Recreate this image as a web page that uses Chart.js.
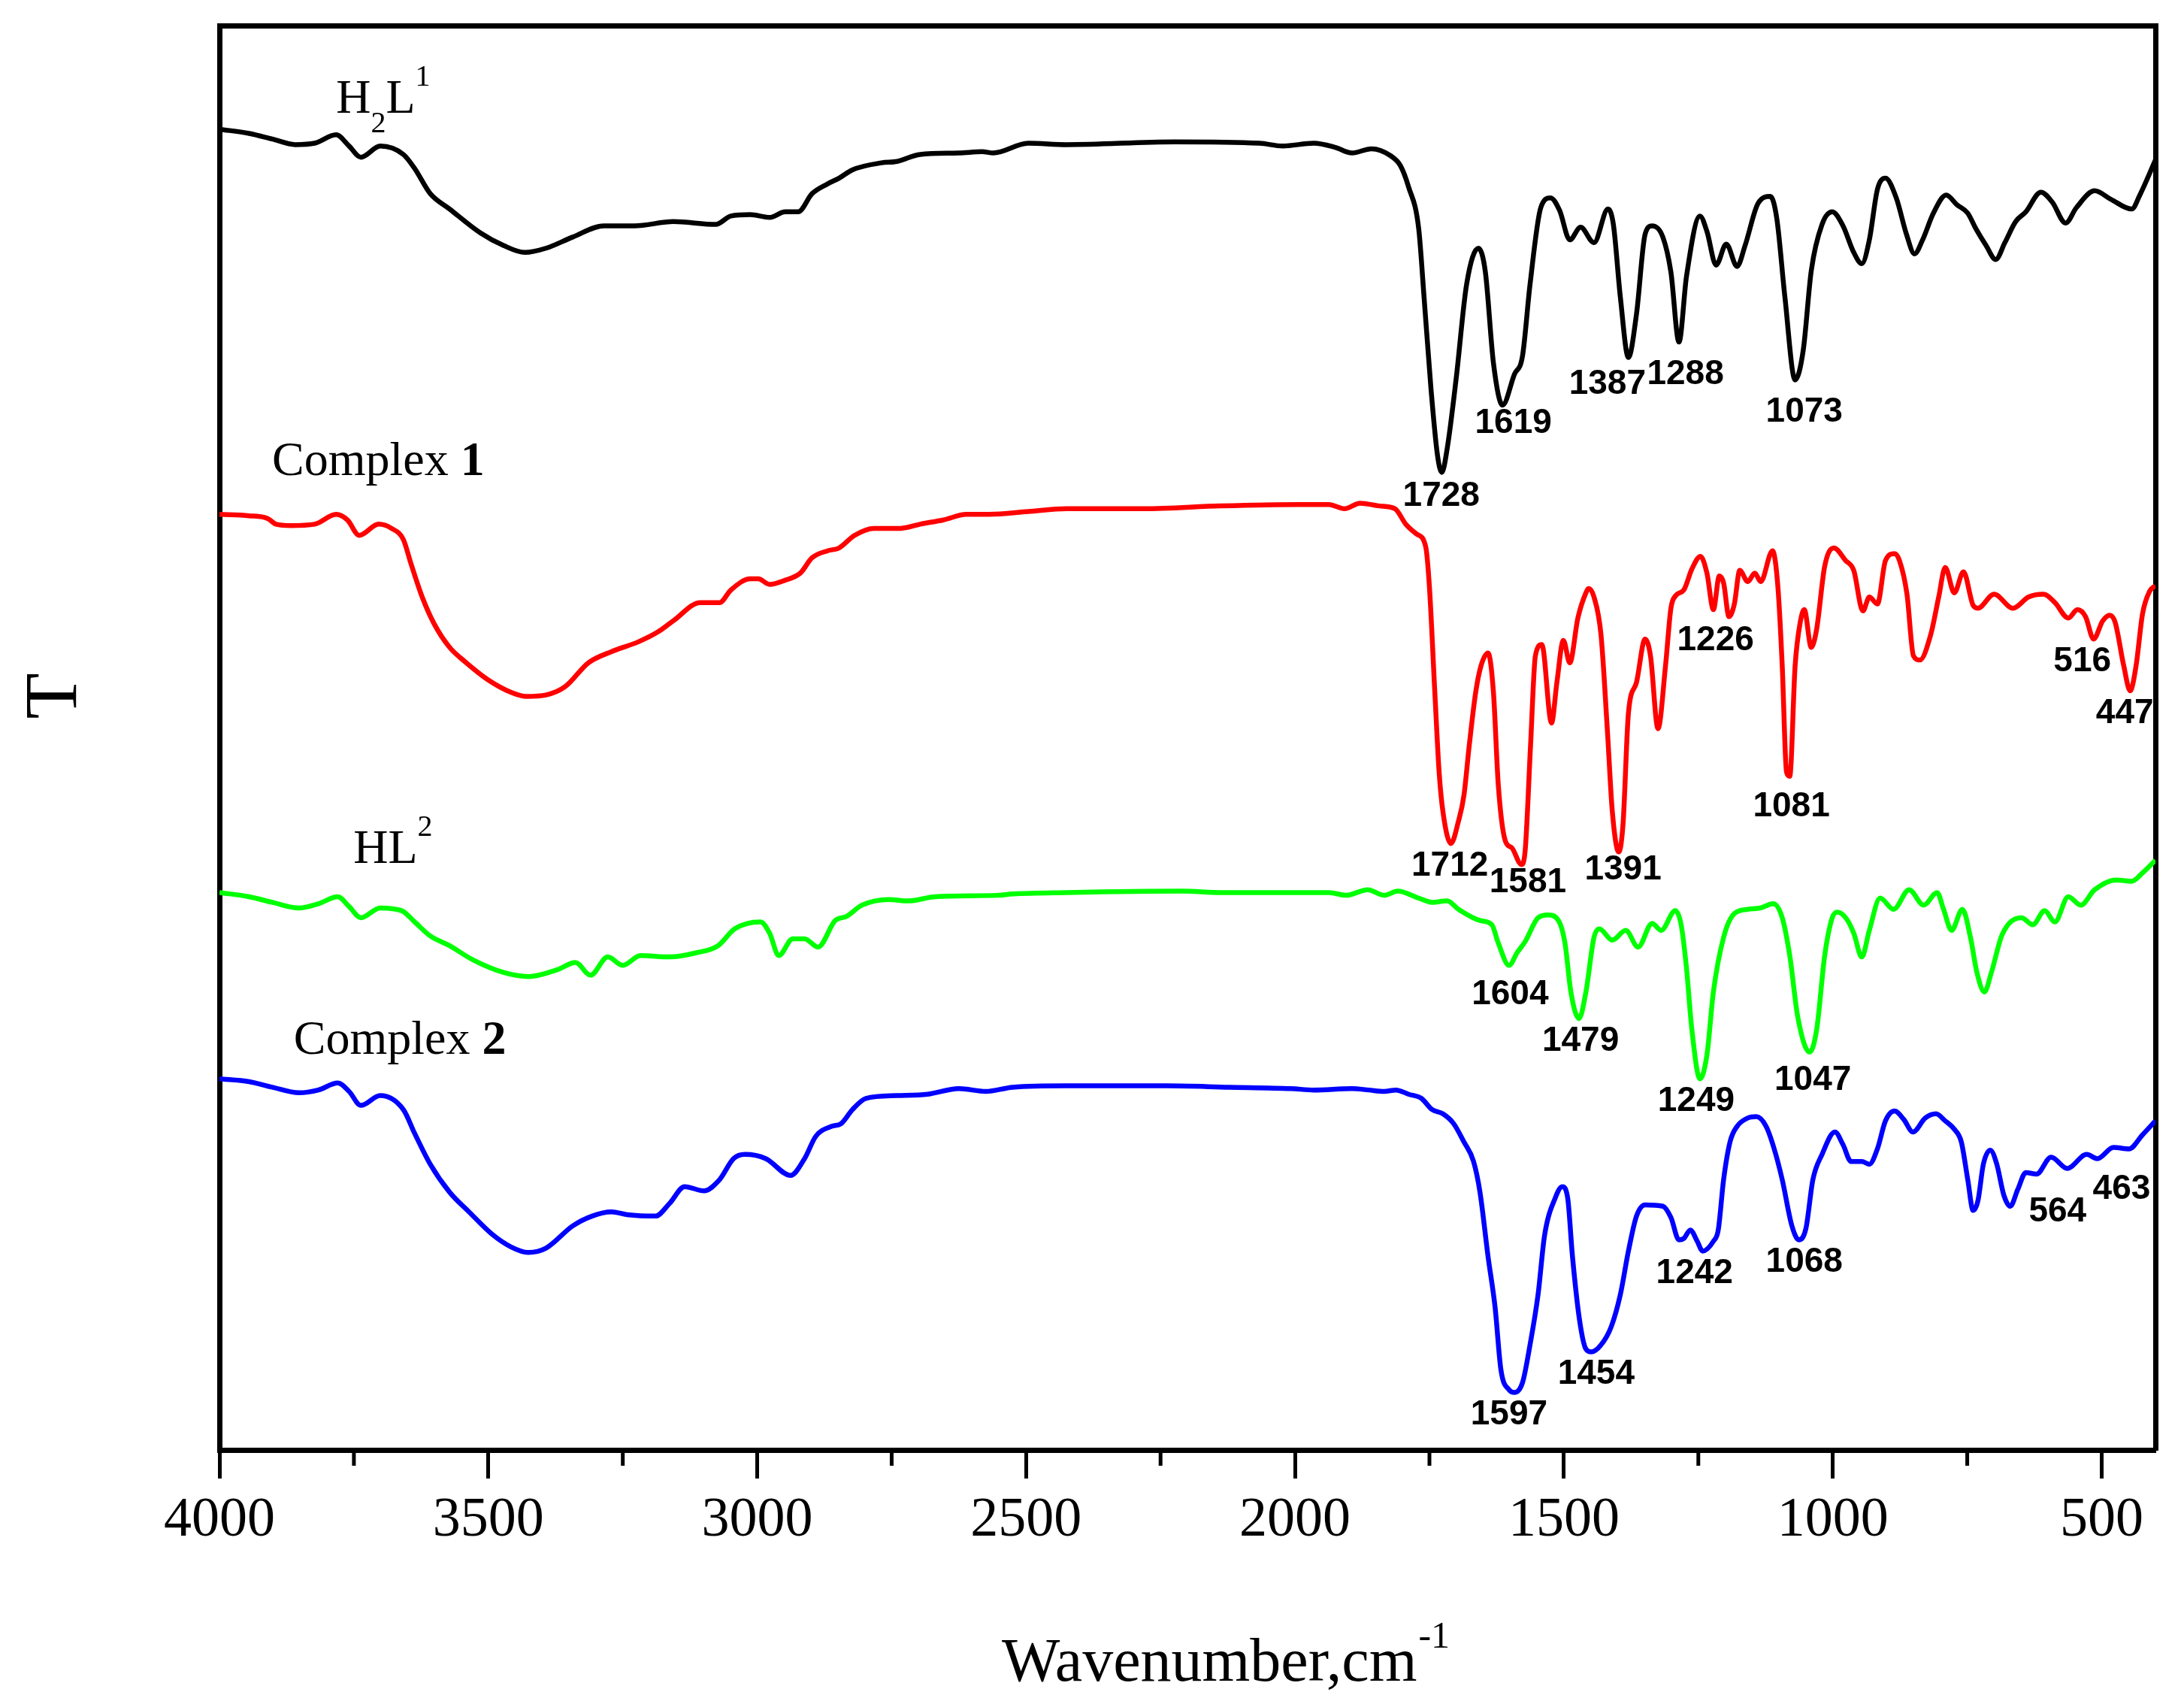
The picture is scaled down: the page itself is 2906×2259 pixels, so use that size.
<!DOCTYPE html>
<html>
<head>
<meta charset="utf-8">
<title>FT-IR spectra</title>
<script src="https://cdn.jsdelivr.net/npm/chart.js@4.4.1/dist/chart.umd.min.js"></script>
<style>
  html, body { margin: 0; padding: 0; background: #fff; }
  canvas { display: block; }
</style>
</head>
<body>
<canvas id="irChart" width="2906" height="2259"></canvas>
<script>
// x: wavenumber (cm-1), y: transmittance in arbitrary units (traces are offset)
var h2l1Wn = [
  4000, 3945, 3902, 3859, 3823, 3783, 3759, 3737, 3701, 3658,
  3637, 3608, 3572, 3515, 3472, 3432, 3393, 3343, 3285, 3228,
  3156, 3077, 3049, 3013, 2977, 2948, 2924, 2898, 2869, 2848,
  2823, 2769, 2740, 2697, 2625, 2582, 2561, 2496, 2425, 2224,
  2066, 2023, 1965, 1925, 1894, 1858, 1822, 1804, 1789, 1770,
  1760, 1747, 1735, 1727, 1717, 1700, 1681, 1659, 1646, 1631,
  1614, 1592, 1577, 1563, 1543, 1525, 1508, 1489, 1469, 1444,
  1418, 1408, 1395, 1380, 1365, 1349, 1336, 1316, 1301, 1286,
  1272, 1247, 1234, 1217, 1198, 1178, 1163, 1139, 1116, 1104,
  1089, 1070, 1055, 1040, 1020, 1001, 981, 961, 946, 932,
  917, 902, 882, 863, 848, 833, 813, 789, 769, 749,
  734, 715, 697, 680, 660, 641, 613, 592, 567, 547,
  513, 483, 444, 429, 400
];
var h2l1T = [
  943, 940, 936, 932, 933, 939, 931, 923, 931, 925,
  915, 897, 886, 869, 860, 855, 858, 866, 874, 874,
  877, 875, 881, 882, 880, 884, 884, 897, 904, 908,
  914, 919, 920, 925, 926, 927, 926, 933, 932, 934,
  933, 931, 933, 930, 926, 929, 924, 917, 902, 872,
  823, 757, 710, 698, 715, 766, 832, 858, 841, 776,
  746, 768, 781, 832, 887, 894, 885, 864, 873, 862,
  886, 875, 823, 780, 811, 868, 874, 866, 841, 791,
  838, 881, 870, 846, 861, 845, 860, 890, 895, 879,
  823, 764, 785, 842, 875, 884, 874, 855, 847, 864,
  900, 908, 894, 868, 854, 864, 883, 896, 889, 883,
  872, 860, 850, 862, 877, 884, 898, 891, 876, 887,
  899, 893, 886, 896, 921
];

var complex1Wn = [
  4000, 3945, 3910, 3895, 3867, 3823, 3783, 3762, 3740, 3704,
  3680, 3658, 3644, 3623, 3601, 3572, 3544, 3501, 3458, 3429,
  3393, 3357, 3314, 3271, 3221, 3185, 3156, 3106, 3070, 3049,
  3013, 2998, 2977, 2948, 2920, 2898, 2869, 2848, 2819, 2783,
  2733, 2697, 2654, 2611, 2568, 2496, 2425, 2281, 2138, 1994,
  1937, 1908, 1879, 1843, 1814, 1794, 1774, 1757, 1750, 1740,
  1732, 1725, 1710, 1696, 1686, 1676, 1664, 1654, 1641, 1631,
  1622, 1609, 1597, 1579, 1572, 1562, 1553, 1541, 1523, 1513,
  1501, 1489, 1474, 1459, 1454, 1444, 1431, 1419, 1410, 1398,
  1390, 1380, 1365, 1349, 1339, 1325, 1311, 1301, 1292, 1277,
  1262, 1246, 1234, 1222, 1211, 1203, 1193, 1183, 1173, 1158,
  1145, 1134, 1112, 1102, 1094, 1086, 1080, 1070, 1060, 1053,
  1040, 1030, 1015, 998, 976, 961, 944, 932, 917, 902,
  885, 876, 862, 850, 838, 818, 803, 791, 774, 757,
  739, 730, 700, 665, 636, 608, 587, 562, 545, 530,
  515, 498, 485, 475, 459, 447, 436, 424, 411, 400
];
var complex1T = [
  668, 667, 665, 661, 660, 661, 668, 664, 653, 661,
  658, 650, 633, 609, 590, 573, 563, 550, 541, 538,
  539, 545, 562, 570, 577, 584, 592, 605, 605, 614,
  622, 622, 618, 621, 626, 637, 642, 644, 653, 658,
  658, 661, 664, 668, 668, 670, 672, 672, 674, 675,
  675, 672, 676, 674, 672, 661, 654, 645, 616, 541,
  484, 456, 433, 449, 467, 503, 541, 560, 569, 541,
  475, 435, 430, 418, 428, 503, 567, 575, 519, 548,
  578, 562, 594, 612, 615, 609, 582, 513, 456, 427,
  447, 526, 548, 579, 567, 515, 560, 601, 610, 614,
  629, 638, 626, 600, 624, 619, 595, 604, 628, 620,
  626, 620, 642, 616, 560, 484, 481, 560, 592, 600,
  573, 586, 631, 644, 635, 628, 599, 609, 604, 635,
  640, 635, 611, 567, 564, 582, 609, 630, 612, 627,
  603, 601, 611, 601, 609, 611, 605, 594, 600, 595,
  579, 592, 596, 591, 560, 542, 560, 597, 613, 617
];

var hl2Wn = [
  4000, 3945, 3902, 3852, 3816, 3780, 3759, 3737, 3701, 3661,
  3637, 3608, 3572, 3529, 3472, 3425, 3371, 3338, 3310, 3278,
  3250, 3217, 3163, 3113, 3073, 3042, 2994, 2977, 2960, 2934,
  2912, 2887, 2855, 2834, 2805, 2755, 2719, 2669, 2554, 2525,
  2425, 2209, 2138, 2080, 1937, 1905, 1865, 1834, 1809, 1770,
  1745, 1717, 1696, 1656, 1634, 1622, 1602, 1587, 1572, 1548,
  1530, 1510, 1498, 1487, 1472, 1459, 1444, 1434, 1410, 1385,
  1362, 1336, 1319, 1293, 1282, 1272, 1262, 1247, 1234, 1222,
  1203, 1183, 1158, 1134, 1111, 1094, 1080, 1065, 1043, 1030,
  1015, 1001, 991, 974, 961, 946, 932, 912, 887, 858,
  831, 806, 794, 779, 759, 744, 732, 718, 705, 685,
  649, 628, 606, 587, 562, 539, 513, 473, 444, 424,
  400
];
var hl2T = [
  398, 395, 391, 387, 390, 395, 388, 380, 387, 385,
  377, 367, 360, 350, 341, 338, 343, 348, 339, 352,
  346, 353, 352, 355, 360, 372, 377, 369, 353, 365,
  365, 359, 378, 381, 389, 393, 392, 395, 396, 397,
  398, 399, 398, 398, 398, 396, 400, 396, 399, 394,
  391, 392, 386, 378, 375, 362, 346, 355, 363, 380,
  382, 378, 362, 327, 308, 327, 366, 372, 364, 371,
  359, 376, 371, 385, 375, 344, 300, 265, 282, 327,
  366, 383, 386, 387, 390, 380, 353, 309, 284, 300,
  353, 380, 384, 379, 369, 352, 371, 394, 386, 400,
  389, 398, 386, 371, 386, 366, 341, 327, 341, 368,
  380, 375, 385, 377, 395, 389, 400, 407, 406, 412,
  421
];

var complex2Wn = [
  4000, 3945, 3902, 3852, 3816, 3780, 3759, 3737, 3701, 3658,
  3637, 3608, 3572, 3536, 3493, 3458, 3426, 3393, 3343, 3307,
  3271, 3242, 3189, 3163, 3135, 3099, 3070, 3044, 3023, 2984,
  2938, 2912, 2891, 2862, 2844, 2823, 2798, 2740, 2683, 2625,
  2575, 2525, 2425, 2238, 2123, 2008, 1965, 1894, 1863, 1834,
  1812, 1789, 1765, 1745, 1725, 1705, 1686, 1668, 1656, 1641,
  1628, 1617, 1602, 1592, 1577, 1563, 1548, 1536, 1516, 1503,
  1493, 1484, 1471, 1459, 1449, 1431, 1412, 1395, 1380, 1365,
  1349, 1316, 1301, 1286, 1277, 1265, 1252, 1242, 1222, 1213,
  1203, 1191, 1178, 1158, 1142, 1124, 1109, 1094, 1076, 1063,
  1050, 1037, 1020, 996, 981, 966, 946, 932, 917, 902,
  885, 868, 851, 828, 808, 791, 774, 761, 749, 739,
  730, 720, 707, 695, 682, 670, 656, 641, 621, 594,
  564, 528, 508, 478, 449, 424, 400
];
var complex2T = [
  265, 263, 259, 255, 257, 262, 256, 246, 253, 243,
  226, 204, 184, 170, 154, 145, 141, 144, 160, 167,
  170, 168, 167, 176, 188, 185, 193, 208, 211, 208,
  196, 208, 224, 231, 233, 243, 251, 253, 254, 258,
  256, 259, 260, 260, 259, 258, 257, 258, 257, 256,
  257, 254, 251, 243, 240, 233, 220, 206, 184, 138,
  102, 57, 43, 41, 48, 75, 111, 153, 180, 188,
  180, 138, 93, 72, 70, 75, 88, 111, 142, 167,
  175, 174, 166, 150, 151, 157, 149, 142, 149, 157,
  193, 220, 231, 237, 238, 231, 215, 193, 160, 150,
  158, 193, 211, 227, 218, 206, 206, 204, 215, 235,
  242, 236, 227, 237, 240, 235, 229, 220, 193, 171,
  178, 204, 214, 204, 182, 174, 186, 198, 197, 209,
  201, 211, 208, 216, 215, 225, 235
];

var xTicks = [4000, 3500, 3000, 2500, 2000, 1500, 1000, 500];
var xMinorTicks = [3750, 3250, 2750, 2250, 1750, 1250, 750];

// peak annotations: text, wavenumber and T where the label sits
var peakText = ["1728", "1619", "1387", "1288", "1073",
  "1712", "1581", "1391", "1226", "1081", "516", "447",
  "1604", "1479", "1249", "1047",
  "1597", "1454", "1242", "1068", "564", "463"];
var peakWn = [1728, 1594, 1419, 1274, 1053,
  1712, 1567, 1390, 1218, 1077, 536, 457,
  1600, 1469, 1254, 1037,
  1602, 1440, 1257, 1053, 582, 463];
var peakT = [681, 733, 761, 768, 741,
  417, 405, 414, 578, 459, 563, 526,
  325, 292, 249, 264,
  25, 54, 126, 134, 170, 186];

// trace names, split into pieces for sub/superscripts and bold numbers
var nameParts = [
  [["H", ""], ["2", "sub"], ["L", ""], ["1", "sup"]],
  [["Complex ", ""], ["1", "bold"]],
  [["HL", ""], ["2", "sup"]],
  [["Complex ", ""], ["2", "bold"]]
];
var nameWn = [3783, 3902, 3751, 3862];
var nameT = [955, 696, 419, 283];

function toPoints(wn, t) {
  if (wn.length != t.length) console.warn("length mismatch", wn.length, t.length);
  return wn.map(function(x, i) { return {x: x, y: t[i]}; });
}

function drawRich(ctx, parts, x, y) {
  var cx = x;
  parts.forEach(function(p) {
    var size = 64, dy = 0, weight = "";
    if (p[1] == "sub") { size = 40; dy = 26; }
    if (p[1] == "sup") { size = 40; dy = -36; }
    if (p[1] == "bold") weight = "bold ";
    ctx.font = weight + size + 'px "Liberation Serif"';
    ctx.fillText(p[0], cx, y + dy);
    cx += ctx.measureText(p[0]).width;
  });
}

var extras = {
  id: "extras",
  afterDraw: function(chart) {
    var ctx = chart.ctx;
    var area = chart.chartArea;
    var xs = chart.scales.x, ys = chart.scales.y;
    ctx.save();

    // minor ticks on the wavenumber axis
    ctx.strokeStyle = "#000";
    ctx.lineWidth = 5;
    xMinorTicks.forEach(function(v) {
      var px = xs.getPixelForValue(v);
      ctx.beginPath();
      ctx.moveTo(px, area.bottom);
      ctx.lineTo(px, area.bottom + 21);
      ctx.stroke();
    });

    // peak positions
    ctx.fillStyle = "#000";
    ctx.textAlign = "center";
    ctx.textBaseline = "middle";
    ctx.font = 'bold 46px "Liberation Sans"';
    for (var i = 0; i < peakText.length; i++) {
      ctx.fillText(peakText[i], xs.getPixelForValue(peakWn[i]), ys.getPixelForValue(peakT[i]));
    }

    // trace names
    ctx.textAlign = "left";
    ctx.textBaseline = "alphabetic";
    for (var j = 0; j < nameParts.length; j++) {
      drawRich(ctx, nameParts[j], xs.getPixelForValue(nameWn[j]), ys.getPixelForValue(nameT[j]));
    }

    // axis titles
    ctx.font = '82px "Liberation Serif"';
    var main = "Wavenumber,cm";
    var wMain = ctx.measureText(main).width;
    ctx.font = '50px "Liberation Serif"';
    var wSup = ctx.measureText("-1").width;
    var tx = 1630 - (wMain + wSup) / 2;
    ctx.font = '82px "Liberation Serif"';
    ctx.fillText(main, tx, 2236);
    ctx.font = '50px "Liberation Serif"';
    ctx.fillText("-1", tx + wMain + 2, 2192);

    ctx.translate(75, 926);
    ctx.rotate(-Math.PI / 2);
    ctx.textAlign = "center";
    ctx.textBaseline = "middle";
    ctx.font = '100px "Liberation Serif"';
    ctx.fillText("T", 0, 0);
    ctx.restore();
  }
};

function frameAxis(pos, size) {
  var horizontal = (pos == "top");
  return {
    type: "linear",
    position: pos,
    display: true,
    min: horizontal ? 400 : 0,
    max: horizontal ? 4000 : 1017,
    reverse: horizontal,
    ticks: {display: false},
    grid: {drawOnChartArea: false, drawTicks: false},
    border: {display: true, width: 7, color: "#000"},
    afterFit: function(s) { if (horizontal) s.height = size; else s.width = size; }
  };
}

var ctx = document.getElementById("irChart").getContext("2d");
var irChart = new Chart(ctx, {
  type: "line",
  data: {
    datasets: [
      {label: "H2L1", data: toPoints(h2l1Wn, h2l1T), borderColor: "#000000"},
      {label: "Complex 1", data: toPoints(complex1Wn, complex1T), borderColor: "#ff0000"},
      {label: "HL2", data: toPoints(hl2Wn, hl2T), borderColor: "#00ff00"},
      {label: "Complex 2", data: toPoints(complex2Wn, complex2T), borderColor: "#0000ff"}
    ]
  },
  options: {
    responsive: false,
    animation: false,
    devicePixelRatio: 1,
    layout: {padding: 0},
    elements: {
      point: {radius: 0},
      line: {borderWidth: 6.5, cubicInterpolationMode: "monotone", fill: false}
    },
    plugins: {legend: {display: false}, tooltip: {enabled: false}},
    scales: {
      x: {
        type: "linear",
        position: "bottom",
        min: 400,
        max: 4000,
        reverse: true,
        afterBuildTicks: function(s) { s.ticks = xTicks.map(function(v) { return {value: v}; }); },
        afterFit: function(s) { s.height = 2259 - 1929; },
        grid: {drawOnChartArea: false, drawTicks: true, tickLength: 38, tickWidth: 5, tickColor: "#000"},
        border: {display: true, width: 7, color: "#000"},
        ticks: {
          color: "#000",
          font: {family: "Liberation Serif", size: 74},
          padding: 12,
          maxRotation: 0,
          autoSkip: false,
          callback: function(v) { return String(v); }
        }
      },
      y: {
        type: "linear",
        position: "left",
        min: 0,
        max: 1017,
        ticks: {display: false},
        grid: {drawOnChartArea: false, drawTicks: false},
        border: {display: true, width: 7, color: "#000"},
        afterFit: function(s) { s.width = 292; }
      },
      xTop: frameAxis("top", 34),
      yRight: frameAxis("right", 38)
    }
  },
  plugins: [extras]
});
</script>
</body>
</html>
